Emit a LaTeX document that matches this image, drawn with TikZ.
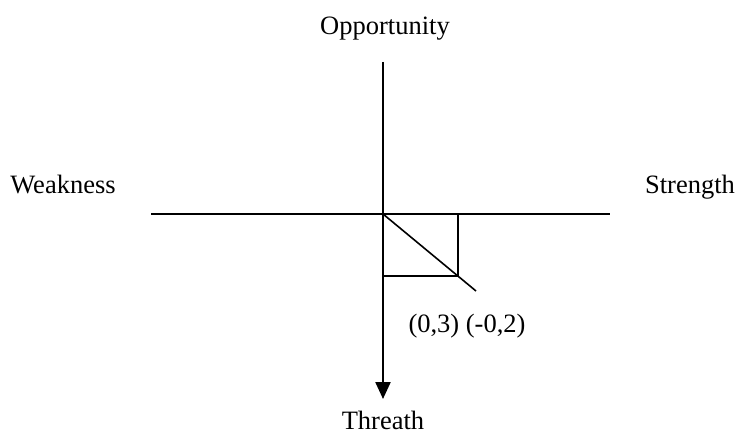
\documentclass[tikz,border=0pt]{standalone}
\usepackage{fontspec}
\setmainfont{Liberation Serif}
\usetikzlibrary{arrows.meta}
\begin{document}
\begin{tikzpicture}[x=1pt,y=-1pt,
  lbl/.style={anchor=base,inner sep=0pt,font=\fontsize{26.5}{30}\selectfont},
  axis/.style={line width=2.3pt},
  thin/.style={line width=1.6pt}]
\useasboundingbox (0,0) rectangle (742,436);
\coordinate (O) at (383,214);
\coordinate (L) at (151,214);
\coordinate (R) at (610,214);
\coordinate (T) at (383,62);
\coordinate (B) at (383,399);
\coordinate (c1) at (458,214);
\coordinate (c2) at (458,276);
\coordinate (c3) at (383,276);
\coordinate (d) at (476,291);
\draw[axis] (L) -- (R);
\draw[axis,-{Triangle[width=15pt,length=17pt]}] (T) -- (B);
\draw[thin] (O) -- (c1) -- (c2) -- (c3);
\draw[thin] (O) -- (d);
\node[lbl] (opp) at (385,35) {Opportunity};
\node[lbl] (weak) at (63,193) {Weakness};
\node[lbl] (str) at (690,193) {Strength};
\node[lbl] (thr) at (383,429) {Threath};
\node[lbl] (pt) at (467,332) {(0,3) (-0,2)};
\end{tikzpicture}
\end{document}
